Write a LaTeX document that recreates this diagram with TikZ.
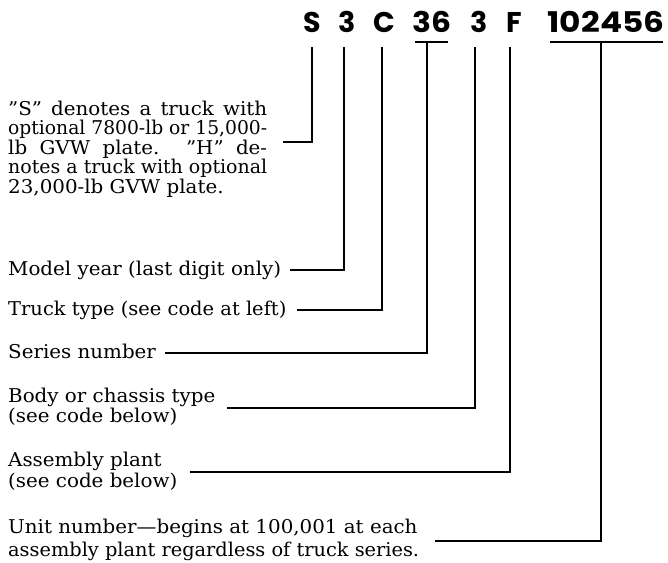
\documentclass[tikz,border=0pt]{standalone}
\usepackage{fontspec}
\setmainfont{DejaVu Serif}[FakeStretch=1.045]
\newfontfamily\codefont{Poppins}
\newdimen\jwd \jwd=259pt
\newsavebox\fitbox
\newcommand\fitline[1]{\sbox\fitbox{#1}\ifdim\wd\fitbox>\jwd\resizebox{\jwd}{\height}{\usebox\fitbox}\else\makebox[\jwd][s]{#1}\fi}
\tikzset{
  lbl/.style={anchor=base west, inner sep=0pt, font=\fontsize{19}{20}\selectfont},
  code/.style={anchor=base, inner sep=0pt, font=\codefont\bfseries\fontsize{28.5}{30}\selectfont},
  conn/.style={line width=1.35pt, line join=miter},
}
\begin{document}
\begin{tikzpicture}[x=1pt,y=-1pt]
\useasboundingbox (0,0) rectangle (668,562);
% code characters
\node[code] (cS) at (312.5,32) {S};
\node[code] (c3) at (347.5,32) {3};
\node[code] (cC) at (384.5,32) {C};
\node[code] (c36) at (431.5,32) {\scalebox{1.1}[1]{36}};
\node[code] (c3b) at (479.5,32) {3};
\node[code] (cF) at (514,32) {F};
\node[code] (cU) at (606,32) {\scalebox{1.15}[1]{102456}};
% tops of connectors
\coordinate (tS) at (312,47);
\coordinate (t3) at (344,47);
\coordinate (tC) at (382,47);
\coordinate (t36a) at (415,42);
\coordinate (t36b) at (448,42);
\coordinate (t36) at (427,42);
\coordinate (t3b) at (475,47);
\coordinate (tF) at (510,47);
\coordinate (tUa) at (550,42);
\coordinate (tUb) at (663,42);
\coordinate (tU) at (601,42);
% texts
\node[lbl] (s1) at (8,115) {\fitline{''S'' denotes a truck with}};
\node[lbl] (s2) at (8,134.5) {\fitline{optional 7800-lb or 15,000-}};
\node[lbl] (s3) at (8,154) {\fitline{lb GVW plate. ''H'' de-}};
\node[lbl] (s4) at (8,173.5) {\fitline{notes a truck with optional}};
\node[lbl] (s5) at (8,193) {23,000-lb GVW plate.};
\node[lbl] (my) at (8,275) {Model year (last digit only)};
\node[lbl] (tt) at (8,315) {\scalebox{0.98}[1]{Truck type (see code at left)}};
\node[lbl] (sn) at (8,358) {Series number};
\node[lbl] (bc1) at (8,402) {Body or chassis type};
\node[lbl] (bc2) at (8,422) {(see code below)};
\node[lbl] (ap1) at (8,466) {Assembly plant};
\node[lbl] (ap2) at (8,487) {(see code below)};
\node[lbl] (un1) at (8,533) {Unit number---begins at 100,001 at each};
\node[lbl] (un2) at (8,556) {\scalebox{0.975}[1]{assembly plant regardless of truck series.}};
% connector start points
\coordinate (eS) at (283,142);
\coordinate (e3) at (290,270);
\coordinate (eC) at (297,310);
\coordinate (e36) at (165,353);
\coordinate (e3b) at (227,408);
\coordinate (eF) at (190,472);
\coordinate (eU) at (435,541);
% connectors
\draw[conn] (eS) -| (tS);
\draw[conn] (e3) -| (t3);
\draw[conn] (eC) -| (tC);
\draw[conn] (t36a) -- (t36b);
\draw[conn] (e36) -| (t36);
\draw[conn] (e3b) -| (t3b);
\draw[conn] (eF) -| (tF);
\draw[conn] (tUa) -- (tUb);
\draw[conn] (eU) -| (tU);
\end{tikzpicture}
\end{document}
